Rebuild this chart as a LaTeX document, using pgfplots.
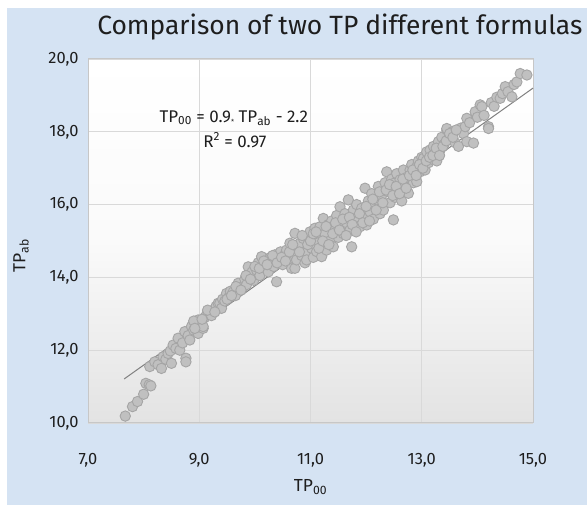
\documentclass[border=0pt]{standalone}
\usepackage{pgfplots}
\pgfplotsset{compat=1.18}
\usepackage{fontspec}
\setmainfont{Fira Sans}
\definecolor{panel}{HTML}{D5E3F3}
\definecolor{ptfill}{HTML}{C0C0C0}
\definecolor{ptdraw}{HTML}{A5A5A5}
\definecolor{gridc}{HTML}{D9D9D9}
\definecolor{txt}{HTML}{1E1E1E}

\begin{document}
\begin{tikzpicture}[x=1bp,y=1bp]
\useasboundingbox (0,0) rectangle (587,505);
\fill[white] (0,0) rectangle (587,505);
\fill[panel] (7,0) rectangle (587,497);
\begin{axis}[
    at={(88bp,82bp)}, anchor=south west,
    scale only axis,
    width=445bp, height=364bp,
    xmin=7, xmax=15, ymin=10, ymax=20,
    xtick={7,9,11,13,15},
    ytick={10,12,14,16,18,20},
    major tick length=0pt,
    grid=major,
    grid style={gridc, line width=0.8bp},
    axis line style={draw=black!22, line width=1bp},
    axis background/.style={top color=white, bottom color=black!11, middle color=black!2},
    /pgf/number format/assume math mode=true,
    /pgf/number format/.cd, fixed, fixed zerofill, precision=1, use comma,
    /pgfplots/.cd,
    tick label style={font=\fontsize{16.5}{19}\selectfont, text=txt},
    xticklabel style={yshift=-27bp},
    yticklabel style={xshift=-6bp},
    xlabel={TP\textsubscript{00}},
    ylabel={TP\textsubscript{ab}},
    label style={font=\fontsize{17.5}{20}\selectfont, text=txt},
    xlabel style={at={(axis description cs:0.5,0)}, anchor=center, yshift=-64bp},
    ylabel style={at={(axis description cs:0,0.46)}, anchor=center, rotate=0, yshift=67bp},
    title={Comparison of two TP different formulas},
    title style={at={(axis description cs:0.566,1)}, anchor=center, yshift=26bp, font=\fontsize{26.5}{30}\selectfont, text=txt},
    clip=false,
]
\addplot[only marks, mark=*, mark size=5.2bp,
  mark options={fill=ptfill, draw=ptdraw, line width=0.9bp}] coordinates {
(7.67,10.19)(7.80,10.45)(7.89,10.59)(8.00,10.79)(8.04,11.09)(8.10,11.05)(8.13,11.02)
(8.11,11.55)(8.20,11.68)(8.26,11.60)(8.32,11.50)(8.35,11.82)(8.40,11.75)(8.44,11.91)
(8.50,11.64)(8.48,11.98)(8.53,12.14)(8.58,12.05)(8.62,12.33)(8.65,12.00)(8.70,12.20)
(8.76,11.78)(8.76,11.68)(8.74,12.51)(8.80,12.40)(8.83,12.28)(8.86,12.65)(8.90,12.55)
(8.95,12.70)(8.98,12.83)(8.98,12.46)(9.02,12.75)(9.07,12.60)(9.07,12.65)(9.10,12.90)
(9.13,12.97)(9.18,13.05)(9.22,12.95)(9.25,13.10)(9.30,13.20)(9.34,13.29)(9.37,13.29)
(9.40,13.15)(9.42,13.40)(9.46,13.35)(9.49,13.56)(9.53,13.45)(9.56,13.62)(9.61,13.60)
(9.65,13.50)(9.70,13.84)(9.72,13.70)(9.79,13.74)(9.82,13.95)(9.85,13.80)(9.88,14.29)
(9.91,14.07)(9.95,14.15)(9.98,13.92)(10.03,14.20)(10.06,14.40)(10.09,14.05)(10.12,14.57)
(10.15,14.29)(10.20,14.45)(10.24,14.15)(10.28,14.55)(10.30,14.43)(10.34,14.30)(10.36,14.62)
(10.39,13.88)(10.42,14.50)(10.46,14.70)(10.50,14.35)(10.53,14.60)(10.57,14.75)(10.60,14.50)
(10.63,14.94)(10.66,14.25)(10.69,14.65)(10.72,15.21)(10.72,14.25)(10.75,14.48)(10.78,14.85)
(10.81,14.94)(10.84,14.60)(10.87,15.07)(10.90,14.40)(10.93,14.71)(10.93,14.48)(10.96,15.10)
(10.99,15.25)(11.02,14.80)(11.05,14.55)(11.08,15.35)(11.11,14.71)(11.11,15.03)(11.14,14.95)
(11.17,15.39)(11.20,14.57)(11.23,15.62)(11.26,15.20)(11.29,14.75)(11.32,15.45)(11.35,15.00)
(11.38,15.55)(11.41,14.84)(11.44,15.30)(11.47,15.70)(11.50,15.10)(11.53,15.94)(11.56,15.45)
(11.59,15.20)(11.62,15.75)(11.65,15.50)(11.68,16.13)(11.71,15.30)(11.74,14.84)(11.77,15.85)
(11.80,15.60)(11.83,16.00)(11.86,15.40)(11.89,15.39)(11.92,15.90)(11.95,15.70)(11.98,16.45)
(12.01,15.44)(12.04,16.10)(12.07,15.80)(12.10,16.30)(12.13,15.60)(12.16,16.00)(12.19,16.13)
(12.22,16.50)(12.25,15.75)(12.28,16.25)(12.31,15.85)(12.34,16.60)(12.37,16.90)(12.40,16.35)
(12.43,16.05)(12.46,16.70)(12.49,15.58)(12.49,16.58)(12.52,16.20)(12.55,16.85)(12.58,16.45)
(12.61,16.68)(12.64,16.10)(12.67,16.95)(12.70,16.50)(12.73,16.75)(12.76,16.31)(12.79,16.95)
(12.82,17.10)(12.85,16.60)(12.88,16.85)(12.91,17.04)(12.91,16.63)(12.94,17.20)(12.97,16.90)
(13.00,17.30)(13.03,17.27)(13.06,16.95)(13.09,17.45)(13.12,17.15)(13.15,17.50)(13.18,17.25)
(13.21,17.60)(13.24,17.40)(13.27,17.20)(13.30,17.73)(13.33,17.50)(13.36,17.85)(13.40,17.65)
(13.45,18.05)(13.45,18.09)(13.48,17.80)(13.51,17.87)(13.55,18.00)(13.60,17.70)(13.66,17.60)
(13.70,18.10)(13.75,17.95)(13.78,18.14)(13.81,17.73)(13.81,18.37)(13.86,18.25)(13.93,17.69)
(13.96,18.55)(14.00,18.40)(14.05,18.74)(14.08,18.69)(14.12,18.45)(14.20,18.14)(14.20,18.09)
(14.25,18.80)(14.30,18.70)(14.35,18.95)(14.41,18.92)(14.45,19.05)(14.50,19.24)(14.55,19.10)
(14.62,18.96)(14.66,19.30)(14.71,19.37)(14.77,19.60)(14.89,19.56)
(10.80,14.70)(10.85,15.15)(10.95,14.90)(11.00,15.00)(11.05,15.20)(11.10,15.25)(11.15,14.80)
(11.22,15.00)(11.28,15.40)(11.33,14.90)(11.40,15.20)(11.45,15.50)(11.52,15.30)(11.58,15.60)
(11.64,15.15)(11.70,15.65)(11.75,15.45)(11.82,15.25)(11.88,15.75)(11.94,15.50)(12.00,15.95)
(12.06,15.55)(12.12,16.15)(12.18,15.85)(12.24,16.35)(12.30,16.05)(12.36,16.40)(12.42,16.55)
(12.48,16.25)(12.54,16.50)(12.60,16.30)(12.66,16.70)(12.72,16.45)(12.78,16.80)(12.84,16.95)
(12.90,16.80)(12.96,17.10)(13.02,17.00)(13.08,17.20)(13.14,17.30)(13.20,17.35)(13.26,17.55)
(13.32,17.35)(13.38,17.60)(13.44,17.75)(13.50,17.95)(13.56,17.85)(13.62,18.05)
(9.50,13.40)(9.58,13.50)(9.66,13.75)(9.75,13.65)(9.84,14.05)(9.92,13.95)(10.00,14.30)
(10.08,14.25)(10.16,14.45)(10.22,14.35)(10.32,14.60)(10.40,14.40)(10.48,14.55)(10.55,14.45)
(10.62,14.70)(10.68,14.90)(8.90,12.80)(8.92,12.60)(9.05,12.85)(9.15,13.10)(9.28,13.05)
};
\addplot[draw=black!50, line width=1bp] coordinates {(7.65,11.21)(15,19.2)};
\node[font=\fontsize{17}{20}\selectfont, text=txt] at (axis cs:9.62,18.38)
  {TP\textsubscript{00} = 0.9\raisebox{-0.25ex}{\scriptsize *} TP\textsubscript{ab} - 2.2};
\node[font=\fontsize{17}{20}\selectfont, text=txt] at (axis cs:9.64,17.77)
  {R\textsuperscript{2} = 0.97};
\end{axis}
\end{tikzpicture}
\end{document}
